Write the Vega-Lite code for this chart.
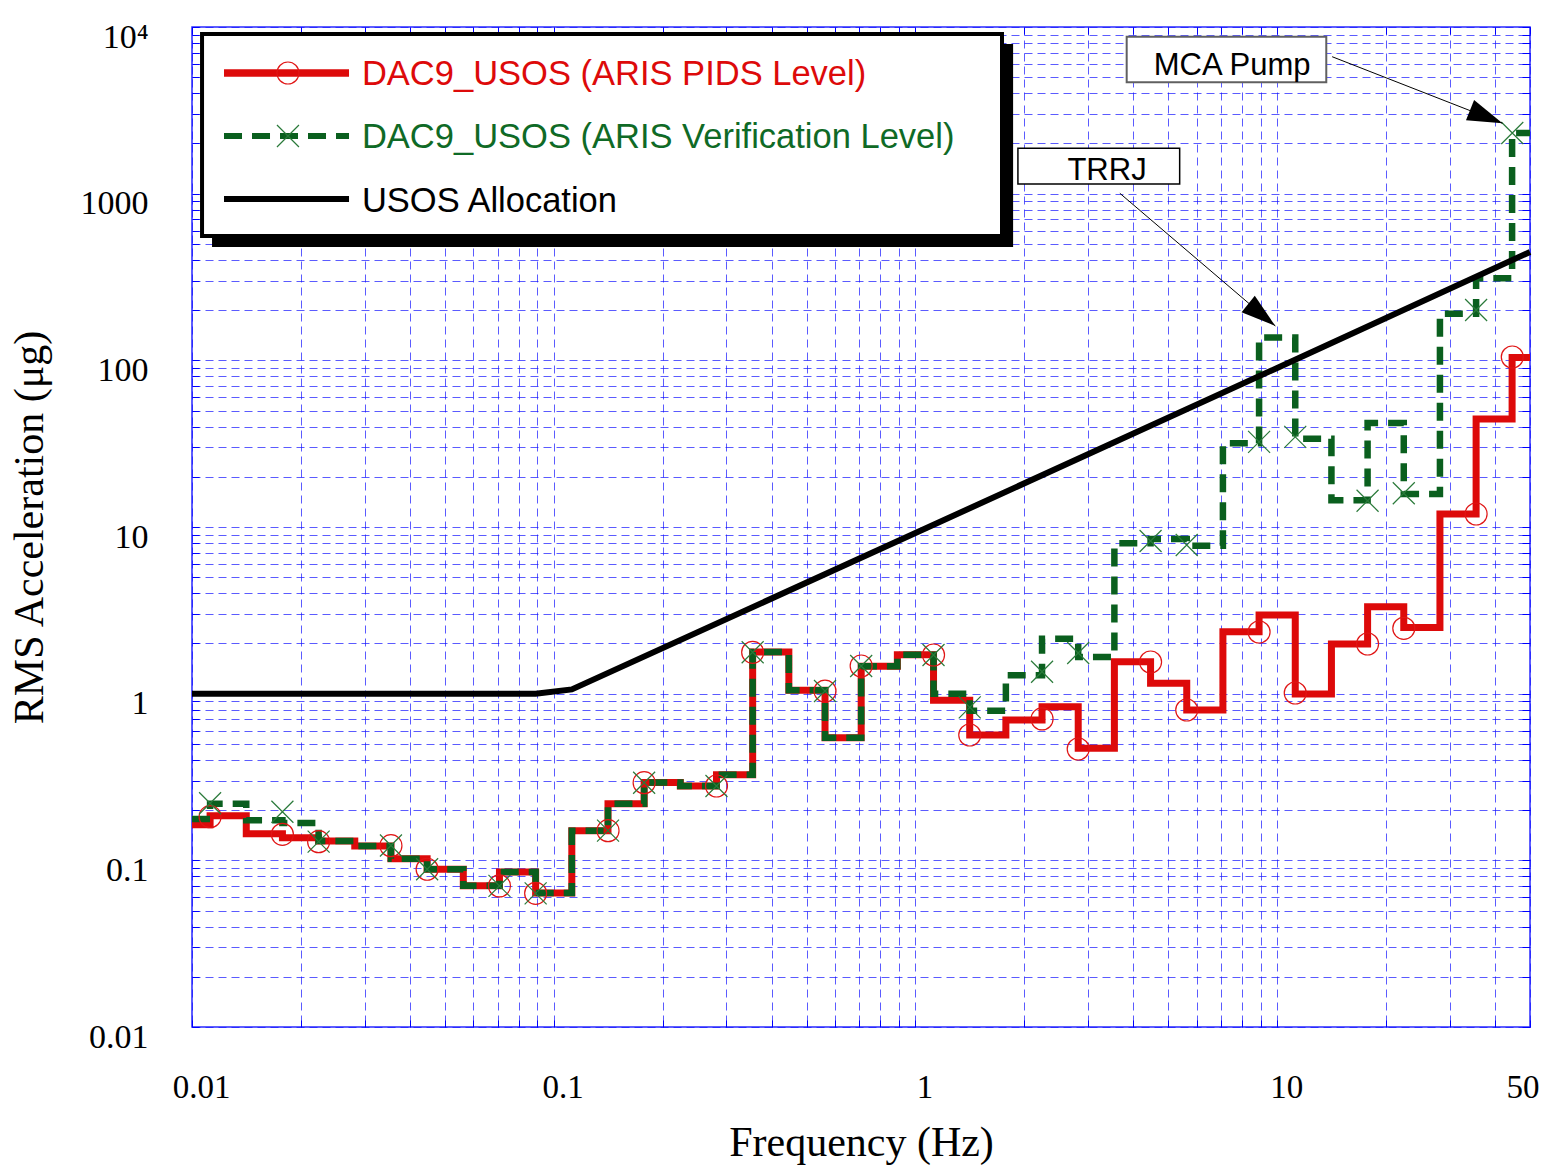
{
  "$schema": "https://vega.github.io/schema/vega-lite/v6.json",
  "width": 1338,
  "height": 1000,
  "autosize": {"type": "none"},
  "padding": {"left": 192, "top": 27, "right": 15, "bottom": 138},
  "background": "white",
  "config": {
    "view": {"stroke": "#2a2aff", "strokeWidth": 1.5},
    "axis": {"domain": false}
  },
  "datasets": {
    "red": [
      {"f": 0.01, "v": 0.1636}, {"f": 0.01259, "v": 0.1852}, {"f": 0.01585, "v": 0.1444}, {"f": 0.01995, "v": 0.1367},
      {"f": 0.02512, "v": 0.1306}, {"f": 0.03162, "v": 0.1219}, {"f": 0.03981, "v": 0.1023}, {"f": 0.05012, "v": 0.0885},
      {"f": 0.0631, "v": 0.0703}, {"f": 0.07943, "v": 0.0851}, {"f": 0.1, "v": 0.0637}, {"f": 0.1259, "v": 0.1504},
      {"f": 0.1585, "v": 0.2187}, {"f": 0.1995, "v": 0.2928}, {"f": 0.2512, "v": 0.2793}, {"f": 0.3162, "v": 0.3265},
      {"f": 0.3981, "v": 1.778}, {"f": 0.5012, "v": 1.047}, {"f": 0.631, "v": 0.5443}, {"f": 0.7943, "v": 1.459},
      {"f": 1, "v": 1.713}, {"f": 1.259, "v": 0.912}, {"f": 1.585, "v": 0.565}, {"f": 1.995, "v": 0.695},
      {"f": 2.512, "v": 0.835}, {"f": 3.162, "v": 0.47}, {"f": 3.981, "v": 1.555}, {"f": 5.012, "v": 1.154},
      {"f": 6.31, "v": 0.798}, {"f": 7.943, "v": 2.352}, {"f": 10, "v": 2.965}, {"f": 12.59, "v": 0.995},
      {"f": 15.85, "v": 1.986}, {"f": 19.95, "v": 3.326}, {"f": 25.12, "v": 2.495}, {"f": 31.62, "v": 11.97},
      {"f": 39.81, "v": 44.5}, {"f": 50, "v": 104}
    ],
    "green": [
      {"f": 0.01, "v": 0.177}, {"f": 0.01259, "v": 0.2187}, {"f": 0.01585, "v": 0.1738}, {"f": 0.01995, "v": 0.1675},
      {"f": 0.02512, "v": 0.1306}, {"f": 0.03162, "v": 0.1219}, {"f": 0.03981, "v": 0.1023}, {"f": 0.05012, "v": 0.0885},
      {"f": 0.0631, "v": 0.0703}, {"f": 0.07943, "v": 0.0851}, {"f": 0.1, "v": 0.0637}, {"f": 0.1259, "v": 0.1504},
      {"f": 0.1585, "v": 0.2187}, {"f": 0.1995, "v": 0.2928}, {"f": 0.2512, "v": 0.2793}, {"f": 0.3162, "v": 0.3265},
      {"f": 0.3981, "v": 1.778}, {"f": 0.5012, "v": 1.047}, {"f": 0.631, "v": 0.5443}, {"f": 0.7943, "v": 1.459},
      {"f": 1, "v": 1.713}, {"f": 1.259, "v": 1.0}, {"f": 1.585, "v": 0.789}, {"f": 1.995, "v": 1.288},
      {"f": 2.512, "v": 2.134}, {"f": 3.162, "v": 1.66}, {"f": 3.981, "v": 7.98}, {"f": 5.012, "v": 8.47},
      {"f": 6.31, "v": 7.72}, {"f": 7.943, "v": 31.8}, {"f": 10, "v": 136.9}, {"f": 12.59, "v": 33.9},
      {"f": 15.85, "v": 14.46}, {"f": 19.95, "v": 42.1}, {"f": 25.12, "v": 15.78}, {"f": 31.62, "v": 190.3},
      {"f": 39.81, "v": 310.9}, {"f": 50, "v": 2312}
    ],
    "alloc": [
      {"f": 0.01, "v": 1}, {"f": 0.08913, "v": 1}, {"f": 0.1122, "v": 1.06}, {"f": 1, "v": 9.2}, {"f": 10, "v": 90}, {"f": 50, "v": 447}
    ],
    "redMk": [
      {"f": 0.01122, "v": 0.1827}, {"f": 0.01778, "v": 0.1433}, {"f": 0.02239, "v": 0.1294}, {"f": 0.03548, "v": 0.1224},
      {"f": 0.04467, "v": 0.0884}, {"f": 0.07079, "v": 0.0702}, {"f": 0.08913, "v": 0.0634}, {"f": 0.1413, "v": 0.1506},
      {"f": 0.1778, "v": 0.2922}, {"f": 0.2818, "v": 0.2793}, {"f": 0.3548, "v": 1.771}, {"f": 0.5623, "v": 1.037},
      {"f": 0.7079, "v": 1.466}, {"f": 1.122, "v": 1.706}, {"f": 1.413, "v": 0.565}, {"f": 2.239, "v": 0.705},
      {"f": 2.818, "v": 0.4656}, {"f": 4.467, "v": 1.549}, {"f": 5.623, "v": 0.798}, {"f": 8.913, "v": 2.344},
      {"f": 11.22, "v": 1.009}, {"f": 17.78, "v": 1.986}, {"f": 22.39, "v": 2.467}, {"f": 35.48, "v": 11.97},
      {"f": 44.67, "v": 104.7}
    ],
    "greenMk": [
      {"f": 0.01122, "v": 0.2199}, {"f": 0.01778, "v": 0.1957}, {"f": 0.02239, "v": 0.1294}, {"f": 0.03548, "v": 0.1227},
      {"f": 0.04467, "v": 0.0884}, {"f": 0.07079, "v": 0.0702}, {"f": 0.08913, "v": 0.0634}, {"f": 0.1413, "v": 0.1506},
      {"f": 0.1778, "v": 0.2922}, {"f": 0.2818, "v": 0.2793}, {"f": 0.3548, "v": 1.771}, {"f": 0.5623, "v": 1.037},
      {"f": 0.7079, "v": 1.466}, {"f": 1.122, "v": 1.706}, {"f": 1.413, "v": 0.828}, {"f": 2.239, "v": 1.354},
      {"f": 2.818, "v": 1.754}, {"f": 4.467, "v": 8.24}, {"f": 5.623, "v": 7.8}, {"f": 8.913, "v": 32.4},
      {"f": 11.22, "v": 34.7}, {"f": 17.78, "v": 14.38}, {"f": 22.39, "v": 15.93}, {"f": 35.48, "v": 200.4},
      {"f": 44.67, "v": 2312}
    ],
    "arrows": [
      {"name": "MCA", "f": 14.19, "v": 6634, "f2": 41.97, "v2": 2644},
      {"name": "TRRJ", "f": 3.674, "v": 1005, "f2": 9.886, "v2": 160.7}
    ]
  },
  "resolve": {"axis": {"x": "independent", "y": "independent"}},
  "encoding": {
    "x": {"field": "f", "type": "quantitative", "scale": {"type": "log", "domain": [0.01, 50], "nice": false}, "axis": null},
    "y": {"field": "v", "type": "quantitative", "scale": {"type": "log", "domain": [0.01, 10000], "nice": false}, "axis": null}
  },
  "layer": [
    {
      "data": {"name": "red"},
      "mark": {"type": "line", "interpolate": "step", "color": "#dd0a0a", "strokeWidth": 7},
      "encoding": {
        "x": {
          "field": "f", "type": "quantitative",
          "scale": {"type": "log", "domain": [0.01, 50], "nice": false},
          "axis": {
            "orient": "bottom",
            "values": [0.01, 0.02, 0.03, 0.04, 0.05, 0.06, 0.07, 0.08, 0.09, 0.1, 0.2, 0.3, 0.4, 0.5, 0.6, 0.7, 0.8, 0.9, 1, 2, 3, 4, 5, 6, 7, 8, 9, 10, 20, 30, 40, 50],
            "labelExpr": "datum.value == 0.01 ? '0.01' : datum.value == 0.1 ? '0.1' : datum.value == 1 ? '1' : datum.value == 10 ? '10' : datum.value == 50 ? '50' : ''",
            "grid": true, "gridColor": "#1515ff", "gridDash": [8, 5], "gridWidth": 1, "gridOpacity": 0.7,
            "ticks": true, "tickSize": -7, "tickColor": "#0000ff", "tickWidth": 1,
            "labelFont": "Liberation Serif", "labelFontSize": 33, "labelColor": "black",
            "labelPadding": 77, "labelBaseline": "alphabetic", "labelOffset": 9,
            "labelAlign": {"condition": {"test": "datum.value == 50", "value": "right"}, "value": "center"},
            "labelOverlap": false, "labelFlush": false, "labelBound": false,
            "title": "Frequency (Hz)", "titleFont": "Liberation Serif", "titleFontSize": 42, "titleFontWeight": "normal",
            "titleColor": "black", "titlePadding": 18
          }
        },
        "y": {
          "field": "v", "type": "quantitative",
          "scale": {"type": "log", "domain": [0.01, 10000], "nice": false},
          "axis": {
            "orient": "left",
            "values": [0.01, 0.02, 0.03, 0.04, 0.05, 0.06, 0.07, 0.08, 0.09, 0.1, 0.2, 0.3, 0.4, 0.5, 0.6, 0.7, 0.8, 0.9, 1, 2, 3, 4, 5, 6, 7, 8, 9, 10, 20, 30, 40, 50, 60, 70, 80, 90, 100, 200, 300, 400, 500, 600, 700, 800, 900, 1000, 2000, 3000, 4000, 5000, 6000, 7000, 8000, 9000, 10000],
            "labelExpr": "datum.value == 10000 ? '10⁴' : datum.value == 1000 ? '1000' : datum.value == 100 ? '100' : datum.value == 10 ? '10' : datum.value == 1 ? '1' : datum.value == 0.1 ? '0.1' : datum.value == 0.01 ? '0.01' : ''",
            "grid": true, "gridColor": "#1515ff", "gridDash": [8, 5], "gridWidth": 1, "gridOpacity": 0.7,
            "ticks": true, "tickSize": -7, "tickColor": "#0000ff", "tickWidth": 1,
            "labelFont": "Liberation Serif", "labelFontSize": 34, "labelColor": "black",
            "labelPadding": 51, "labelBaseline": "middle", "labelOffset": 10, "labelAlign": "right",
            "labelOverlap": false, "labelFlush": false, "labelBound": false,
            "title": "RMS Acceleration (μg)", "titleFont": "Liberation Serif", "titleFontSize": 42, "titleFontWeight": "normal",
            "titleColor": "black", "titlePadding": 29
          }
        }
      }
    },
    {
      "data": {"name": "green"},
      "mark": {"type": "line", "interpolate": "step", "color": "#0a5f1e", "strokeWidth": 6.5, "strokeDash": [18, 10]},
      "encoding": {
        "x": {
          "field": "f", "type": "quantitative",
          "scale": {"type": "log", "domain": [0.01, 50], "nice": false},
          "axis": {
            "orient": "top", "labels": false, "grid": false, "title": null,
            "values": [0.01, 0.02, 0.03, 0.04, 0.05, 0.06, 0.07, 0.08, 0.09, 0.1, 0.2, 0.3, 0.4, 0.5, 0.6, 0.7, 0.8, 0.9, 1, 2, 3, 4, 5, 6, 7, 8, 9, 10, 20, 30, 40, 50],
            "ticks": true, "tickSize": -7, "tickColor": "#0000ff", "tickWidth": 1
          }
        },
        "y": {
          "field": "v", "type": "quantitative",
          "scale": {"type": "log", "domain": [0.01, 10000], "nice": false},
          "axis": {
            "orient": "right", "labels": false, "grid": false, "title": null,
            "values": [0.01, 0.02, 0.03, 0.04, 0.05, 0.06, 0.07, 0.08, 0.09, 0.1, 0.2, 0.3, 0.4, 0.5, 0.6, 0.7, 0.8, 0.9, 1, 2, 3, 4, 5, 6, 7, 8, 9, 10, 20, 30, 40, 50, 60, 70, 80, 90, 100, 200, 300, 400, 500, 600, 700, 800, 900, 1000, 2000, 3000, 4000, 5000, 6000, 7000, 8000, 9000, 10000],
            "ticks": true, "tickSize": -8, "tickColor": "#0000ff", "tickWidth": 1
          }
        }
      }
    },
    {
      "data": {"name": "alloc"},
      "mark": {"type": "line", "color": "black", "strokeWidth": 6}
    },
    {
      "data": {"name": "redMk"},
      "mark": {"type": "point", "shape": "circle", "size": 484, "filled": false, "color": "#e01515", "strokeWidth": 1.2, "opacity": 1}
    },
    {
      "data": {"name": "greenMk"},
      "mark": {"type": "point", "shape": "M-1,-1L1,1M-1,1L1,-1", "size": 484, "filled": false, "color": "#2a7a3a", "strokeWidth": 1.2, "opacity": 1}
    },
    {
      "data": {"values": [{"f": 0.01136, "f2": 1.862, "v": 7907, "v2": 478.6}]},
      "mark": {"type": "rect", "color": "black"},
      "encoding": {"x2": {"field": "f2"}, "y2": {"field": "v2"}}
    },
    {
      "data": {"values": [{"f": 0.01066, "f2": 1.735, "v": 9078, "v2": 557.2}]},
      "mark": {"type": "rect", "fill": "white", "stroke": "black", "strokeWidth": 4},
      "encoding": {"x2": {"field": "f2"}, "y2": {"field": "v2"}}
    },
    {
      "data": {"values": [{"f": 0.01226, "f2": 0.02717, "v": 5297}]},
      "mark": {"type": "rule", "color": "#dd0a0a", "strokeWidth": 7.5},
      "encoding": {"x2": {"field": "f2"}}
    },
    {
      "data": {"values": [{"f": 0.01226, "f2": 0.02717, "v": 2218}]},
      "mark": {"type": "rule", "color": "#0a5f1e", "strokeWidth": 6, "strokeDash": [18, 10]},
      "encoding": {"x2": {"field": "f2"}}
    },
    {
      "data": {"values": [{"f": 0.01226, "f2": 0.02717, "v": 929}]},
      "mark": {"type": "rule", "color": "black", "strokeWidth": 6},
      "encoding": {"x2": {"field": "f2"}}
    },
    {
      "data": {"values": [{"f": 0.01842, "v": 5297}]},
      "mark": {"type": "point", "shape": "circle", "size": 484, "filled": false, "color": "#e01515", "strokeWidth": 1.2, "opacity": 1}
    },
    {
      "data": {"values": [{"f": 0.01842, "v": 2218}]},
      "mark": {"type": "point", "shape": "M-1,-1L1,1M-1,1L1,-1", "size": 484, "filled": false, "color": "#2a7a3a", "strokeWidth": 1.2, "opacity": 1}
    },
    {
      "data": {"values": [{"f": 0.0295, "v": 4487, "t": "DAC9_USOS (ARIS PIDS Level)"}]},
      "mark": {"type": "text", "align": "left", "baseline": "alphabetic", "font": "Liberation Sans", "fontSize": 34.5, "color": "#dd0a0a"},
      "encoding": {"text": {"field": "t"}}
    },
    {
      "data": {"values": [{"f": 0.0295, "v": 1872, "t": "DAC9_USOS (ARIS Verification Level)"}]},
      "mark": {"type": "text", "align": "left", "baseline": "alphabetic", "font": "Liberation Sans", "fontSize": 34.5, "color": "#0f6a26"},
      "encoding": {"text": {"field": "t"}}
    },
    {
      "data": {"values": [{"f": 0.0295, "v": 779.6, "t": "USOS Allocation"}]},
      "mark": {"type": "text", "align": "left", "baseline": "alphabetic", "font": "Liberation Sans", "fontSize": 34.5, "color": "black"},
      "encoding": {"text": {"field": "t"}}
    },
    {
      "data": {"values": [{"f": 3.837, "f2": 13.67, "v": 8747, "v2": 4658}]},
      "mark": {"type": "rect", "fill": "white", "stroke": "#606060", "strokeWidth": 2},
      "encoding": {"x2": {"field": "f2"}, "y2": {"field": "v2"}}
    },
    {
      "data": {"values": [{"f": 1.92, "f2": 5.376, "v": 1872, "v2": 1143}]},
      "mark": {"type": "rect", "fill": "white", "stroke": "black", "strokeWidth": 1.5},
      "encoding": {"x2": {"field": "f2"}, "y2": {"field": "v2"}}
    },
    {
      "data": {"values": [{"f": 7.506, "v": 5152, "t": "MCA Pump"}, {"f": 3.386, "v": 1208, "t": "TRRJ"}]},
      "mark": {"type": "text", "align": "center", "baseline": "alphabetic", "font": "Liberation Sans", "fontSize": 31, "color": "black"},
      "encoding": {"text": {"field": "t"}}
    },
    {
      "data": {"name": "arrows"},
      "mark": {"type": "rule", "color": "black", "strokeWidth": 1},
      "encoding": {"x2": {"field": "f2"}, "y2": {"field": "v2"}}
    },
    {
      "data": {"name": "arrows"},
      "transform": [{"filter": "datum.name == 'MCA'"}],
      "mark": {"type": "point", "shape": "M0,0L-1,-0.31L-1,0.31Z", "size": 4900, "filled": true, "color": "black", "opacity": 1, "angle": 22},
      "encoding": {
        "x": {"field": "f2", "type": "quantitative", "scale": {"type": "log", "domain": [0.01, 50], "nice": false}, "axis": null},
        "y": {"field": "v2", "type": "quantitative", "scale": {"type": "log", "domain": [0.01, 10000], "nice": false}, "axis": null}
      }
    },
    {
      "data": {"name": "arrows"},
      "transform": [{"filter": "datum.name == 'TRRJ'"}],
      "mark": {"type": "point", "shape": "M0,0L-1,-0.3L-1,0.3Z", "size": 4900, "filled": true, "color": "black", "opacity": 1, "angle": 39},
      "encoding": {
        "x": {"field": "f2", "type": "quantitative", "scale": {"type": "log", "domain": [0.01, 50], "nice": false}, "axis": null},
        "y": {"field": "v2", "type": "quantitative", "scale": {"type": "log", "domain": [0.01, 10000], "nice": false}, "axis": null}
      }
    }
  ]
}
